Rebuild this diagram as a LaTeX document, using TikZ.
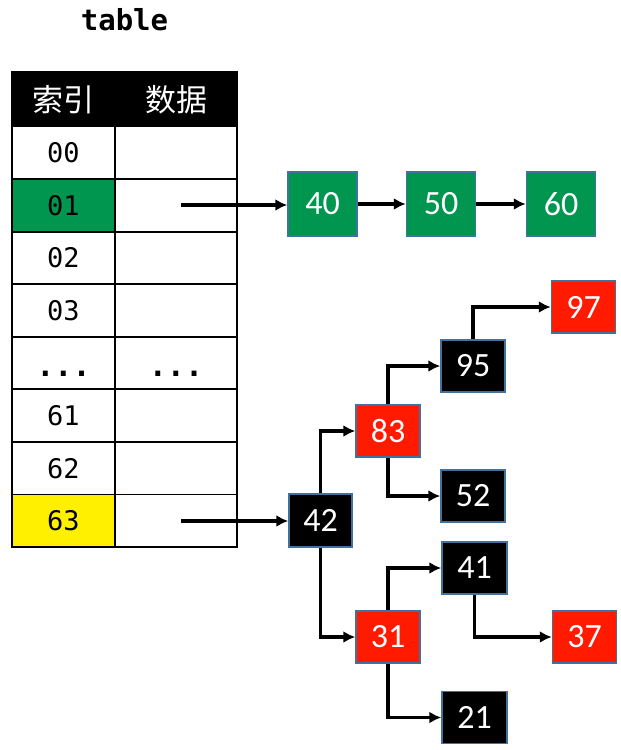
\documentclass[tikz,border=0pt]{standalone}
\usepackage{fontspec}
\setmainfont{Carlito}
\newfontfamily\mymono{DejaVu Sans Mono}
\newfontfamily\mycjk{Noto Sans CJK SC}
\newfontfamily\mybox{Carlito}
\usetikzlibrary{arrows.meta}
\definecolor{gcol}{RGB}{0,150,80}
\definecolor{rcol}{RGB}{255,26,0}
\definecolor{ycol}{RGB}{255,240,0}
\definecolor{bcol}{RGB}{65,113,156}
\begin{document}
\begin{tikzpicture}[x=1pt,y=-1pt,
  cell/.style={draw=black, line width=1.8pt, inner sep=0pt, minimum height=52.56pt,
    font=\mymono\fontsize{27}{30}\selectfont},
  idx/.style={cell, minimum width=103pt},
  dat/.style={cell, minimum width=122pt},
  head/.style={draw=black, fill=black, line width=1.8pt, inner sep=0pt, minimum height=54.5pt,
    text=white, font=\mycjk\fontsize{31}{34}\selectfont},
  nbox/.style={draw=bcol, line width=1.5pt, inner sep=0pt, minimum width=64pt, minimum height=52pt,
    text=white, font=\mybox\fontsize{34}{38}\selectfont},
  gbox/.style={nbox, fill=gcol, minimum width=69pt, minimum height=64pt},
  rbox/.style={nbox, fill=rcol},
  kbox/.style={nbox, fill=black},
  arr/.style={line width=3.2pt, -{Latex[length=12pt,width=12pt]}}
]
\useasboundingbox (0,0) rectangle (621,750);
\fill[white] (0,0) rectangle (621,750);

\node[font=\mymono\bfseries\fontsize{29}{32}\selectfont] (title) at (124.5,20) {table};

% header
\node[head, minimum width=103pt] (h1) at (63.5,99.25) {索引};
\node[head, minimum width=122pt] (h2) at (176,99.25) {数据};

% rows
\node[idx] (i0) at (63.5,152.8) {00};
\node[dat] (d0) at (176,152.8) {};
\node[idx, fill=gcol] (i1) at (63.5,205.3) {01};
\node[dat] (d1) at (176,205.3) {};
\node[idx] (i2) at (63.5,257.9) {02};
\node[dat] (d2) at (176,257.9) {};
\node[idx] (i3) at (63.5,310.5) {03};
\node[dat] (d3) at (176,310.5) {};
\node[idx] (i4) at (63.5,363.0) {};
\node[dat] (d4) at (176,363.0) {};
\node[idx] (i5) at (63.5,415.6) {61};
\node[dat] (d5) at (176,415.6) {};
\node[idx] (i6) at (63.5,468.2) {62};
\node[dat] (d6) at (176,468.2) {};
\node[idx, fill=ycol] (i7) at (63.5,520.7) {63};
\node[dat] (d7) at (176,520.7) {};

\node[font=\mymono\bfseries\fontsize{30}{34}\selectfont, anchor=base] (dots1) at (63.5,376) {...};
\node[font=\mymono\bfseries\fontsize{30}{34}\selectfont, anchor=base] (dots2) at (176,376) {...};

% linked list
\node[gbox] (n40) at (322.5,204) {40};
\node[gbox] (n50) at (441,204) {50};
\node[gbox] (n60) at (561,204) {60};

\coordinate (s1) at (181,205);
\draw[arr] (s1) -- (s1 -| n40.west);
\draw[arr] (n40) -- (n50);
\draw[arr] (n50) -- (n60);

% tree
\node[rbox] (n97) at (583.5,307) {97};
\node[kbox] (n95) at (473,366) {95};
\node[rbox] (n83) at (388,431) {83};
\node[kbox] (n52) at (473,496) {52};
\node[kbox, minimum width=63pt, minimum height=53pt] (n42) at (320.5,520.5) {42};
\node[kbox, minimum width=65pt] (n41) at (474.5,568) {41};
\node[rbox] (n31) at (388,637) {31};
\node[rbox] (n37) at (584.5,637) {37};
\node[kbox, minimum width=65pt] (n21) at (474.5,717.5) {21};

\coordinate (s2) at (181,521);
\draw[arr] (s2) -- (s2 -| n42.west);
\draw[arr] (n42.north) |- (n83.west);
\draw[arr] (n42.south) |- (n31.west);
\draw[arr] (n83.north) |- (n95.west);
\draw[arr] (n83.south) |- (n52.west);
\draw[arr] (n95.north) |- (n97.west);
\draw[arr] (n31.north) |- (n41.west);
\draw[arr] (n31.south) |- (n21.west);
\draw[arr] (n41.south) |- (n37.west);
\end{tikzpicture}
\end{document}
